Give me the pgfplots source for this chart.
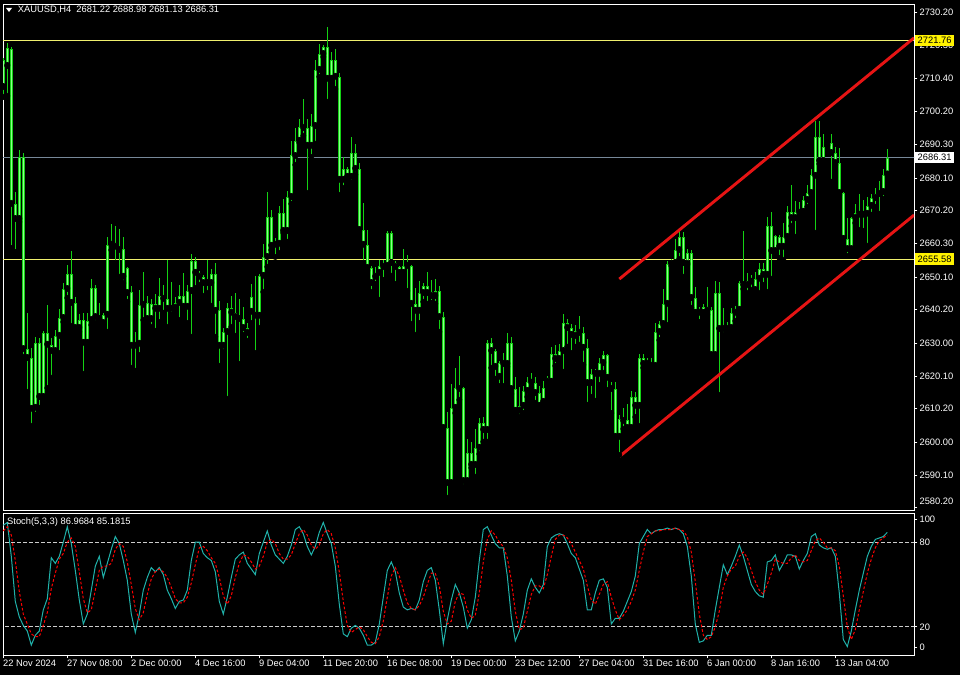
\documentclass[border=0pt]{standalone}
\usepackage{fontspec}
\setmainfont{Liberation Sans}
\usepackage{pgfplots}
\pgfplotsset{compat=1.18}
\usepackage{pgfplotstable}
\definecolor{cedge}{RGB}{20,210,20}
\definecolor{cfill}{RGB}{140,255,140}
\definecolor{kline}{RGB}{32,178,170}
\definecolor{bidline}{RGB}{119,136,153}
\definecolor{hline}{RGB}{240,240,110}
\definecolor{chan}{RGB}{230,20,20}
\newcommand{\mt}{\fontsize{7}{8.4}\selectfont}

\pgfplotstableread{
i o h l c
0 2707.7 2716.5 2704.7 2715.9
1 2714.1 2721.1 2705.0 2719.6
2 2719.3 2719.9 2658.9 2672.3
3 2672.3 2675.9 2657.7 2667.7
4 2667.7 2688.6 2666.8 2686.5
5 2686.5 2687.7 2625.9 2628.3
6 2628.3 2639.3 2615.3 2625.6
7 2625.6 2628.7 2605.0 2610.2
8 2610.5 2632.0 2608.4 2630.2
9 2630.2 2631.7 2610.5 2613.8
10 2613.8 2633.8 2612.3 2633.2
11 2633.2 2641.7 2616.5 2629.6
12 2629.6 2631.7 2619.6 2627.7
13 2627.7 2634.1 2627.1 2632.3
14 2632.3 2640.5 2627.1 2637.7
15 2637.7 2648.3 2636.5 2646.5
16 2646.5 2653.8 2643.8 2651.1
17 2651.1 2658.0 2635.3 2642.3
18 2642.3 2644.1 2633.5 2634.7
19 2634.7 2639.0 2633.5 2637.1
20 2637.1 2639.3 2620.8 2630.2
21 2630.2 2639.3 2629.0 2636.8
22 2637.1 2649.6 2635.6 2646.8
23 2646.8 2647.7 2636.2 2638.0
24 2638.0 2642.3 2636.5 2637.4
25 2636.2 2639.3 2635.9 2638.7
26 2638.7 2662.3 2633.5 2659.9
27 2659.9 2666.2 2658.3 2660.5
28 2660.5 2665.6 2654.4 2659.3
29 2659.3 2664.7 2650.2 2658.3
30 2658.7 2662.3 2648.3 2650.2
31 2652.9 2653.2 2642.6 2645.3
32 2645.6 2647.4 2622.6 2629.3
33 2629.3 2633.5 2621.7 2629.9
34 2629.9 2646.2 2626.5 2641.7
35 2641.7 2651.7 2637.1 2642.3
36 2642.3 2644.4 2637.1 2637.4
37 2637.4 2643.5 2635.0 2642.0
38 2642.0 2645.0 2633.8 2640.5
39 2640.5 2649.9 2636.5 2644.4
40 2644.4 2647.7 2639.3 2643.5
41 2643.5 2655.3 2635.0 2640.5
42 2640.8 2648.7 2638.7 2640.5
43 2640.8 2644.1 2640.2 2642.3
44 2642.3 2647.7 2637.1 2644.4
45 2644.4 2651.4 2640.2 2641.1
46 2641.1 2647.7 2636.2 2645.9
47 2645.9 2657.1 2632.0 2655.0
48 2655.0 2656.2 2646.8 2651.4
49 2651.4 2652.0 2647.7 2650.2
50 2650.2 2650.8 2644.4 2648.3
51 2648.7 2655.3 2645.3 2648.3
52 2648.3 2652.6 2641.4 2651.1
53 2651.1 2654.4 2632.0 2639.9
54 2640.2 2642.9 2623.2 2629.3
55 2629.3 2634.7 2627.4 2633.5
56 2633.5 2642.3 2613.2 2640.8
57 2640.8 2644.4 2635.0 2639.3
58 2639.3 2645.3 2632.3 2638.0
59 2638.4 2643.5 2623.8 2637.4
60 2637.4 2641.1 2632.6 2634.7
61 2634.7 2636.2 2630.8 2633.2
62 2639.6 2648.0 2636.2 2644.1
63 2639.6 2650.5 2627.1 2638.4
64 2638.4 2651.1 2634.7 2650.5
65 2650.5 2660.2 2645.6 2656.2
66 2656.2 2675.9 2653.2 2668.3
67 2668.3 2670.5 2658.3 2659.6
68 2660.5 2662.0 2656.2 2659.9
69 2660.2 2671.7 2657.4 2669.6
70 2669.6 2673.8 2663.5 2664.1
71 2664.1 2676.2 2660.8 2674.4
72 2674.4 2691.4 2672.3 2687.1
73 2686.8 2695.3 2684.1 2691.4
74 2691.4 2698.0 2690.8 2695.6
75 2695.6 2704.1 2692.9 2695.3
76 2695.3 2698.0 2675.6 2689.9
77 2689.9 2699.6 2686.5 2695.9
78 2695.9 2715.9 2690.5 2712.9
79 2712.9 2720.8 2710.8 2717.7
80 2717.7 2720.5 2716.8 2719.9
81 2719.9 2725.9 2703.2 2710.2
82 2710.2 2718.3 2708.6 2715.9
83 2715.9 2719.3 2707.1 2710.8
84 2710.8 2712.0 2675.0 2679.6
85 2679.6 2686.5 2677.1 2682.9
86 2682.9 2683.5 2679.0 2680.5
87 2680.5 2692.6 2678.7 2687.7
88 2687.7 2690.5 2681.1 2682.9
89 2682.9 2684.7 2664.1 2664.4
90 2664.4 2672.6 2654.4 2659.9
91 2659.9 2664.4 2652.0 2652.9
92 2652.9 2653.5 2645.6 2648.3
93 2650.2 2653.2 2648.0 2651.4
94 2651.4 2655.3 2643.2 2653.5
95 2653.2 2655.3 2649.2 2653.8
96 2653.5 2664.1 2652.3 2663.5
97 2663.5 2664.1 2650.5 2654.4
98 2654.4 2655.0 2648.0 2653.2
99 2653.2 2653.5 2651.1 2651.4
100 2651.4 2658.6 2650.8 2653.5
101 2653.5 2656.8 2645.9 2653.8
102 2653.5 2653.8 2635.9 2642.0
103 2642.0 2646.8 2632.6 2639.9
104 2639.9 2649.0 2636.2 2645.3
105 2645.3 2648.3 2642.6 2647.4
106 2647.4 2651.7 2642.0 2645.3
107 2645.6 2649.2 2642.3 2644.4
108 2644.4 2649.6 2642.0 2645.9
109 2645.9 2647.4 2633.5 2638.0
110 2638.0 2639.6 2604.1 2604.4
111 2604.4 2609.3 2583.2 2587.7
112 2587.7 2617.7 2587.1 2610.5
113 2610.5 2622.6 2608.9 2616.5
114 2616.2 2626.2 2612.9 2616.8
115 2616.5 2616.8 2586.5 2588.3
116 2588.3 2601.1 2587.1 2596.8
117 2596.8 2600.2 2592.3 2593.2
118 2593.2 2604.1 2589.6 2598.4
119 2598.4 2607.4 2596.5 2605.9
120 2605.9 2607.7 2600.2 2603.8
121 2603.8 2631.1 2600.2 2630.2
122 2630.2 2631.7 2622.6 2627.7
123 2627.7 2628.3 2619.3 2622.9
124 2624.1 2624.7 2617.1 2619.9
125 2623.8 2627.1 2617.1 2624.1
126 2623.8 2633.2 2622.9 2630.2
127 2630.2 2632.0 2614.7 2616.2
128 2616.2 2619.9 2608.9 2609.6
129 2609.6 2616.8 2607.7 2611.1
130 2611.1 2617.1 2608.9 2615.6
131 2615.6 2619.9 2613.8 2618.4
132 2618.4 2621.1 2616.5 2618.1
133 2618.1 2619.9 2612.0 2615.0
134 2615.0 2617.1 2610.2 2611.1
135 2612.3 2618.7 2612.0 2616.5
136 2618.4 2620.2 2617.7 2619.6
137 2618.4 2629.0 2618.1 2626.8
138 2626.8 2629.6 2623.2 2625.3
139 2625.3 2629.9 2624.1 2627.7
140 2627.7 2639.0 2621.4 2636.2
141 2636.2 2637.4 2629.0 2634.7
142 2634.7 2635.9 2627.1 2632.6
143 2632.3 2635.6 2629.0 2633.8
144 2633.8 2638.4 2629.6 2633.2
145 2633.2 2635.0 2623.5 2628.7
146 2628.7 2631.4 2611.4 2618.0
147 2618.0 2622.3 2613.8 2620.8
148 2620.8 2622.3 2612.6 2621.4
149 2620.8 2625.6 2617.4 2624.1
150 2624.1 2627.7 2621.1 2626.5
151 2626.5 2626.8 2615.9 2619.6
152 2616.8 2618.3 2608.9 2616.2
153 2616.2 2618.3 2601.4 2601.7
154 2601.7 2608.3 2596.2 2607.1
155 2606.8 2610.5 2604.1 2606.5
156 2606.8 2611.7 2603.2 2604.4
157 2604.4 2615.6 2603.8 2613.8
158 2613.8 2615.3 2607.7 2611.1
159 2611.1 2626.8 2605.0 2625.6
160 2625.6 2626.8 2622.6 2623.8
161 2624.4 2625.6 2622.6 2623.8
162 2624.1 2625.6 2621.7 2623.2
163 2623.2 2636.2 2622.6 2633.5
164 2633.5 2636.8 2631.0 2635.9
165 2635.9 2646.5 2635.6 2642.0
166 2642.0 2655.0 2635.6 2654.1
167 2654.1 2655.6 2653.5 2654.7
168 2654.4 2661.7 2653.8 2658.3
169 2658.3 2664.1 2655.6 2662.3
170 2662.3 2663.8 2650.2 2654.4
171 2654.1 2658.6 2653.8 2657.4
172 2657.4 2658.3 2640.8 2643.8
173 2643.8 2647.1 2639.0 2639.3
174 2639.6 2641.1 2636.5 2639.3
175 2639.3 2642.0 2638.7 2641.1
176 2641.1 2647.1 2638.7 2639.9
177 2640.2 2641.1 2625.9 2626.5
178 2626.5 2649.0 2625.9 2645.3
179 2645.3 2648.7 2614.4 2634.4
180 2634.4 2640.8 2632.6 2634.7
181 2634.4 2636.5 2633.2 2635.0
182 2634.7 2640.8 2633.2 2639.3
183 2639.3 2641.4 2636.8 2640.5
184 2640.2 2649.0 2639.6 2648.3
185 2647.7 2664.1 2646.5 2648.3
186 2647.7 2651.4 2645.3 2649.0
187 2648.7 2650.8 2646.2 2649.6
188 2646.2 2651.7 2645.0 2649.6
189 2649.6 2654.4 2645.3 2652.6
190 2652.6 2654.4 2647.7 2650.8
191 2650.8 2668.3 2645.6 2665.6
192 2665.6 2669.9 2649.6 2658.0
193 2658.0 2662.9 2657.4 2662.6
194 2662.3 2662.9 2655.9 2659.3
195 2659.3 2666.5 2655.3 2662.3
196 2662.3 2671.7 2662.0 2669.9
197 2669.9 2678.0 2665.6 2668.0
198 2668.0 2673.2 2662.3 2669.9
199 2669.6 2672.9 2668.3 2670.2
200 2669.9 2674.7 2669.6 2673.5
201 2673.5 2678.0 2671.4 2675.6
202 2675.6 2682.9 2675.3 2681.1
203 2680.8 2697.4 2663.5 2692.6
204 2692.6 2697.4 2684.4 2685.3
205 2685.3 2693.5 2684.4 2689.6
206 2690.2 2691.1 2689.9 2690.8
207 2690.8 2693.5 2679.0 2687.7
208 2687.7 2689.6 2684.1 2684.7
209 2684.7 2689.3 2675.0 2675.6
210 2675.6 2675.9 2661.4 2661.7
211 2661.7 2668.0 2656.5 2658.6
212 2658.6 2668.3 2658.3 2668.0
213 2668.0 2672.3 2666.5 2669.6
214 2669.0 2675.3 2664.4 2669.6
215 2669.0 2673.5 2664.1 2669.3
216 2669.3 2674.4 2659.6 2671.7
217 2671.7 2675.3 2669.0 2674.1
218 2674.1 2677.1 2671.4 2675.3
219 2675.3 2679.3 2669.3 2675.9
220 2675.9 2682.9 2673.8 2681.1
221 2681.22 2688.98 2681.13 2686.31
}\candles

\pgfplotstableread{
i k d
0 92 88
1 94 91
2 70 85
3 38 67
4 27 45
5 21 29
6 17 22
7 7 15
8 14 13
9 17 13
10 32 21
11 40 30
12 69 47
13 65 58
14 70 68
15 80 72
16 91 80
17 79 83
18 60 77
19 39 59
20 22 40
21 29 30
22 46 32
23 63 46
24 70 60
25 55 63
26 65 63
27 75 65
28 84 75
29 79 79
30 67 77
31 53 66
32 29 50
33 16 33
34 29 25
35 46 30
36 55 43
37 62 54
38 59 59
39 62 61
40 57 59
41 46 55
42 40 48
43 33 40
44 38 37
45 39 37
46 46 41
47 67 51
48 80 64
49 80 76
50 72 77
51 69 74
52 67 69
53 59 65
54 38 55
55 29 42
56 41 36
57 55 42
58 68 55
59 71 65
60 73 71
61 65 70
62 61 66
63 57 61
64 72 63
65 80 70
66 88 80
67 78 82
68 71 79
69 68 72
70 65 68
71 70 68
72 78 71
73 89 79
74 91 86
75 86 89
76 77 85
77 71 78
78 77 75
79 87 78
80 94 86
81 86 89
82 79 86
83 63 76
84 36 59
85 15 38
86 13 21
87 19 16
88 21 18
89 19 20
90 14 18
91 7 13
92 7 9
93 9 8
94 22 13
95 41 24
96 60 41
97 66 56
98 59 62
99 44 56
100 34 46
101 32 37
102 33 33
103 32 32
104 39 35
105 52 41
106 60 50
107 62 58
108 53 58
109 32 49
110 8 31
111 25 22
112 39 24
113 50 38
114 44 44
115 34 43
116 19 32
117 25 26
118 41 28
119 67 44
120 89 66
121 91 82
122 85 88
123 79 85
124 76 80
125 76 77
126 56 69
127 27 53
128 10 31
129 17 18
130 29 19
131 46 31
132 54 43
133 48 49
134 44 49
135 50 47
136 77 57
137 83 70
138 85 82
139 86 85
140 85 85
141 79 83
142 72 79
143 69 73
144 61 67
145 53 61
146 32 49
147 32 39
148 44 36
149 53 43
150 54 50
151 48 52
152 22 41
153 26 32
154 26 25
155 31 28
156 38 32
157 45 38
158 56 46
159 79 60
160 84 73
161 89 84
162 86 86
163 88 88
164 89 88
165 89 89
166 90 89
167 89 89
168 90 90
169 89 89
170 86 88
171 77 84
172 56 73
173 22 52
174 9 29
175 10 14
176 14 11
177 14 13
178 32 20
179 48 31
180 64 48
181 57 56
182 63 61
183 70 63
184 78 70
185 70 73
186 60 69
187 50 60
188 45 52
189 42 46
190 41 43
191 66 50
192 67 58
193 71 68
194 60 66
195 65 65
196 71 65
197 71 69
198 70 71
199 61 67
200 67 66
201 72 67
202 84 74
203 86 81
204 78 83
205 76 80
206 75 76
207 76 76
208 70 74
209 44 63
210 11 42
211 6 20
212 17 11
213 32 18
214 46 32
215 58 45
216 70 58
217 77 68
218 82 76
219 83 81
220 84 83
221 86.97 85.18
}\stoch

\begin{document}
\begin{tikzpicture}
\fill[black] (0,0) rectangle (720pt,506.25pt);
% ---------------- main price panel ----------------
\begin{axis}[
  at={(2.25pt,123pt)}, anchor=south west,
  width=683.25pt, height=379.5pt, scale only axis,
  xmin=-0.075, xmax=227.675, ymin=2579.22, ymax=2732.55,
  axis line style={white, line width=0.75pt},
  xtick=\empty,
  ytick={2730.2,2720.3,2710.4,2700.2,2690.3,2680.1,2670.2,2660.3,2650.1,2640.2,2630.0,2620.1,2610.2,2600.0,2590.1},
  yticklabels={2730.20,2720.30,2710.40,2700.20,2690.30,2680.10,2670.20,2660.30,2650.10,2640.20,2630.00,2620.10,2610.20,2600.00,2590.10},
  extra y ticks={2580.2}, extra y tick labels={2580.20},
  extra y tick style={yticklabel style={yshift=5pt}},
  ytick pos=right, yticklabel pos=right,
  tick align=outside, major tick length=2.5pt,
  tick style={white, line width=0.75pt},
  yticklabel style={font=\mt, text=white, anchor=west, inner sep=0pt, xshift=1.5pt},
  /pgf/number format/assume math mode=true,
]
\addplot[hline, line width=0.75pt] coordinates {(-1,2721.76) (229,2721.76)};
\addplot[hline, line width=0.75pt] coordinates {(-1,2655.58) (229,2655.58)};
\addplot[bidline, line width=0.75pt] coordinates {(-1,2686.31) (229,2686.31)};
% wicks
\addplot[only marks, mark=none, error bars/.cd, y dir=plus, y explicit, error mark=none,
  error bar style={line width=0.7pt, color=cedge}]
  table[x=i, y=l, y error plus expr=\thisrow{h}-\thisrow{l}] {\candles};
% bodies (outline)
\addplot[only marks, mark=none, error bars/.cd, y dir=plus, y explicit, error mark=none,
  error bar style={line width=2.3pt, color=cedge}]
  table[x=i, y expr={min(\thisrow{o},\thisrow{c})}, y error plus expr={max(abs(\thisrow{c}-\thisrow{o}),0.3)}] {\candles};
% bodies (inner)
\addplot[only marks, mark=none, error bars/.cd, y dir=plus, y explicit, error mark=none,
  error bar style={line width=0.8pt, color=cfill}]
  table[x=i, y expr={min(\thisrow{o},\thisrow{c})+0.3}, y error plus expr={max(abs(\thisrow{c}-\thisrow{o})-0.6,0)}] {\candles};
% channel
\addplot[chan, line width=2.2pt] coordinates {(154,2649.5) (227.7,2722.6)};
\addplot[chan, line width=2.2pt] coordinates {(154,2595.7) (227.7,2668.9)};
\coordinate (pA) at (axis cs:227.675,2721.76);
\coordinate (pB) at (axis cs:227.675,2686.31);
\coordinate (pC) at (axis cs:227.675,2655.58);
\end{axis}
\node[fill=yellow, text=black, font=\mt, inner xsep=2pt, inner ysep=0pt, minimum height=8.6pt, anchor=west] at ([xshift=0.6pt]pA) {2721.76};
\node[fill=white, text=black, font=\mt, inner xsep=2pt, inner ysep=0pt, minimum height=8.6pt, anchor=west] at ([xshift=0.6pt]pB) {2686.31};
\node[fill=yellow, text=black, font=\mt, inner xsep=2pt, inner ysep=0pt, minimum height=8.6pt, anchor=west] at ([xshift=0.6pt]pC) {2655.58};
% title
\fill[white] (4.5pt,500.25pt) -- (9pt,500.25pt) -- (6.75pt,497.25pt) -- cycle;
\node[anchor=west, text=white, font=\mt, inner sep=0pt] at (13.2pt,498.9pt) {XAUUSD,H4\ \ 2681.22 2688.98 2681.13 2686.31};
% ---------------- stochastic panel ----------------
\begin{axis}[
  at={(2.25pt,15pt)}, anchor=south west,
  width=683.25pt, height=105.75pt, scale only axis,
  xmin=-0.075, xmax=227.675, ymin=0, ymax=100,
  axis line style={white, line width=0.75pt},
  xtick={0,16,32,48,64,80,96,112,128,144,160,176,192,208},
  xticklabels={22 Nov 2024,27 Nov 08:00,2 Dec 00:00,4 Dec 16:00,9 Dec 04:00,11 Dec 20:00,16 Dec 08:00,19 Dec 00:00,23 Dec 12:00,27 Dec 04:00,31 Dec 16:00,6 Jan 00:00,8 Jan 16:00,13 Jan 04:00},
  xtick pos=left,
  xticklabel style={font=\mt, text=white, anchor=north west, inner sep=0pt, xshift=-0.3pt, yshift=-1.2pt},
  ytick={5.2,20,80,95.9}, yticklabels={0,20,80,100},
  ytick pos=right, yticklabel pos=right,
  tick align=outside, major tick length=2.5pt,
  tick style={white, line width=0.75pt},
  yticklabel style={font=\mt, text=white, anchor=west, inner sep=0pt, xshift=1.5pt},
  /pgf/number format/assume math mode=true,
]
\addplot[white!80!black, line width=0.6pt, dash pattern=on 2.5pt off 2pt] coordinates {(-1,80) (229,80)};
\addplot[white!80!black, line width=0.6pt, dash pattern=on 2.5pt off 2pt] coordinates {(-1,20) (229,20)};
\addplot[kline, line width=0.75pt] table[x=i, y=k] {\stoch};
\addplot[red, line width=0.75pt, dash pattern=on 2pt off 1.5pt] table[x=i, y=d] {\stoch};
\end{axis}
\node[anchor=west, text=white, font=\mt, inner sep=0pt] at (5.2pt,114.75pt) {Stoch(5,3,3) 86.9684 85.1815};
\end{tikzpicture}
\end{document}
